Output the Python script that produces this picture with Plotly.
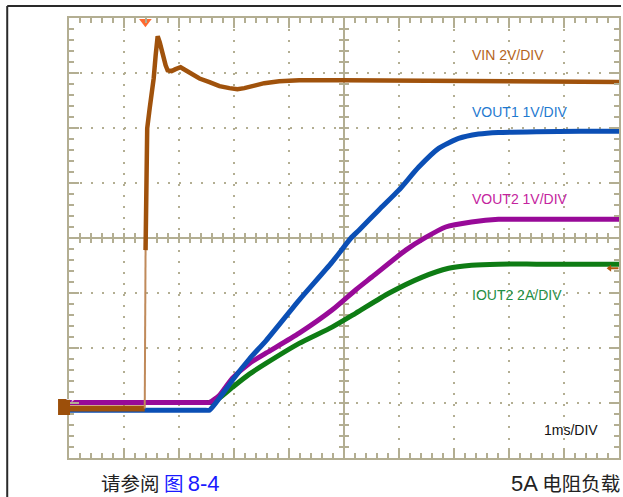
import plotly.graph_objects as go

# ---------------- data ----------------
# time in ms (1 ms / DIV, 10 divisions)
t_vin = [0, 1.377, 1.386, 1.392, 1.398, 1.404, 1.422, 1.467, 1.504, 1.540, 1.576, 1.612,
         1.649, 1.703, 1.757, 1.793, 1.866, 1.938, 2.029, 2.12, 2.228, 2.373, 2.554,
         2.736, 2.917, 3.062, 3.188, 3.37, 3.551, 3.822, 4.185, 5.0, 10.0]
vin = [0, 0, 2.85, 5.76, 7.57, 9.28, 10.19, 10.92, 11.36, 12.01, 12.85, 13.54,
       13.32, 12.85, 12.48, 12.3, 12.27, 12.34, 12.41, 12.3, 12.16, 12.0, 11.87,
       11.72, 11.65, 11.61, 11.65, 11.76, 11.83, 11.9, 11.94, 11.94, 11.87]

t_vout1 = [0, 1.0, 2.0, 2.45, 2.554, 2.736, 2.971, 3.279, 3.587, 4.185, 4.783, 5.127,
           5.272, 5.634, 5.996, 6.359, 6.721, 7.083, 7.446, 7.808, 8.5, 9.3, 10.0]
vout1 = [0, 0, 0, 0, 0, 0.22, 0.545, 0.93, 1.27, 2.0, 2.69, 3.13,
         3.27, 3.64, 4.0, 4.42, 4.76, 4.94, 5.02, 5.05, 5.06, 5.07, 5.07]

t_vout2 = [0, 1.0, 2.0, 2.45, 2.554, 2.736, 2.971, 3.279, 3.587, 4.185, 4.783, 5.217,
           5.507, 6.123, 6.486, 6.848, 7.319, 7.808, 8.5, 9.3, 10.0]
vout2 = [0, 0, 0, 0, 0, 0.13, 0.44, 0.71, 0.90, 1.26, 1.68, 2.05,
         2.28, 2.77, 3.00, 3.19, 3.28, 3.33, 3.33, 3.33, 3.33]

t_iout2 = [0, 1.0, 2.0, 2.48, 2.59, 2.681, 2.971, 3.279, 3.587, 4.185, 4.783, 5.217,
           5.815, 6.413, 6.902, 7.319, 7.808, 8.5, 9.3, 10.0]
iout2 = [0, 0, 0, 0, 0, 0.08, 0.55, 1.03, 1.43, 2.15, 2.74, 3.25,
         3.97, 4.55, 4.88, 4.99, 5.03, 5.03, 5.03, 5.03]

# channel settings: units per division, ground position (divisions from centre)
ch_scale = {"VIN": 2.0, "VOUT1": 1.0, "VOUT2": 1.0, "IOUT2": 2.0}
ch_offset = {"VIN": -3.1, "VOUT1": -3.13, "VOUT2": -2.99, "IOUT2": -2.99}
ch_color = {"VIN": "#a0520c", "VOUT1": "#0b4fb5", "VOUT2": "#980a98", "IOUT2": "#0e7c14"}
label_color = {"VIN": "#b5651d", "VOUT1": "#1f7ad0", "VOUT2": "#c4249e", "IOUT2": "#1f8f45"}
labels = ["VIN 2V/DIV", "VOUT1 1V/DIV", "VOUT2 1V/DIV", "IOUT2 2A/DIV"]
label_div = [3.324, 2.287, 0.705, -1.04]
timebase_label = "1ms/DIV"


def to_div(name, vals):
    return [ch_offset[name] + v / ch_scale[name] for v in vals]


GRID = "#b3ae92"
LAT = 'font-size:22px;font-family:Liberation Sans'
fig = go.Figure()

# centre cross with minor ticks
hx = 5 / 55.2
hy = 5 / 55.0
cx, cy = [], []
cx += [5, 5, None]; cy += [-4, 4, None]
cx += [0, 10, None]; cy += [0, 0, None]
for i in range(1, 50):
    x = i * 0.2
    cx += [x, x, None]; cy += [-hy, hy, None]
for i in range(1, 40):
    y = -4 + i * 0.2
    cx += [5 - hx, 5 + hx, None]; cy += [y, y, None]
fig.add_trace(go.Scatter(x=cx, y=cy, mode="lines", line=dict(color=GRID, width=2),
                         hoverinfo="skip", showlegend=False))

# traces
fig.add_trace(go.Scatter(x=t_iout2, y=to_div("IOUT2", iout2), mode="lines",
                         line=dict(color=ch_color["IOUT2"], width=5, shape="spline", smoothing=0.6),
                         showlegend=False))
fig.add_trace(go.Scatter(x=t_vout2, y=to_div("VOUT2", vout2), mode="lines",
                         line=dict(color=ch_color["VOUT2"], width=5, shape="spline", smoothing=0.6),
                         showlegend=False))
fig.add_trace(go.Scatter(x=t_vout1, y=to_div("VOUT1", vout1), mode="lines",
                         line=dict(color=ch_color["VOUT1"], width=5, shape="spline", smoothing=0.6),
                         showlegend=False))
vdiv = to_div("VIN", vin)
fig.add_trace(go.Scatter(x=t_vin[:2], y=vdiv[:2], mode="lines",
                         line=dict(color=ch_color["VIN"], width=6), showlegend=False))
fig.add_trace(go.Scatter(x=t_vin[1:4], y=vdiv[1:4], mode="lines",
                         line=dict(color="#c08a5a", width=2), showlegend=False))
fig.add_trace(go.Scatter(x=t_vin[3:], y=vdiv[3:], mode="lines",
                         line=dict(color=ch_color["VIN"], width=4.5), showlegend=False))

# trigger position marker (top) and trigger level marker (right)
fig.add_trace(go.Scatter(x=[1.389], y=[3.93], mode="markers", cliponaxis=False,
                         marker=dict(symbol="triangle-down", size=11, color="#ff6a30"),
                         showlegend=False))
fig.add_trace(go.Scatter(x=[9.84, 9.99], y=[-0.55, -0.55], mode="lines", cliponaxis=False,
                         line=dict(color="#b0560e", width=2), showlegend=False))
fig.add_trace(go.Scatter(x=[9.83], y=[-0.55], mode="markers", cliponaxis=False,
                         marker=dict(symbol="triangle-left", size=6, color="#b0560e"),
                         showlegend=False))

# channel labels
for name, txt, yd in zip(["VIN", "VOUT1", "VOUT2", "IOUT2"], labels, label_div):
    fig.add_annotation(x=7.283, y=yd, xref="x", yref="y", text=txt, showarrow=False,
                       xanchor="left", yanchor="middle",
                       font=dict(family="Liberation Sans, Arial", size=14, color=label_color[name]))
fig.add_annotation(x=8.605, y=-3.495, xref="x", yref="y", text=timebase_label, showarrow=False,
                   xanchor="left", yanchor="middle",
                   font=dict(family="Liberation Sans, Arial", size=14, color="#111111"))

# captions
cap_y = (458 - 482.5) / 440
fig.add_annotation(x=(100 - 69) / 552, y=cap_y, xref="paper", yref="paper",
                   text='请参阅 <span style="color:#1a1aff">图 <span style="' + LAT + '">8-4</span></span>',
                   showarrow=False, xanchor="left", yanchor="middle", borderpad=0,
                   font=dict(family="Noto Sans CJK SC", size=19.5, color="#222222"))
fig.add_annotation(x=(623 - 69) / 552, y=cap_y, xref="paper", yref="paper",
                   text='<span style="' + LAT + '">5A</span> 电阻负载',
                   showarrow=False, xanchor="right", yanchor="middle", borderpad=0,
                   font=dict(family="Noto Sans CJK SC", size=19.5, color="#222222"))

# ground marker box (left)
fig.add_shape(type="rect", xref="paper", yref="paper", layer="above",
              x0=(58 - 69) / 552, x1=(70 - 69) / 552, y0=(458 - 415) / 440, y1=(458 - 399) / 440,
              fillcolor="#9c4f0a", line=dict(width=0))
fig.add_annotation(x=(64 - 69) / 552, y=(458 - 407) / 440, xref="paper", yref="paper",
                   text="→", showarrow=False, font=dict(family="DejaVu Sans", size=10, color="white"))

# outer frame lines of the figure
fy_top = (458 - 6) / 440
fx_left = (7 - 69) / 552
fig.add_shape(type="line", xref="paper", yref="paper", x0=fx_left, x1=(623 - 69) / 552,
              y0=fy_top, y1=fy_top, line=dict(color="#2a2a2a", width=2))
fig.add_shape(type="line", xref="paper", yref="paper", x0=fx_left, x1=fx_left,
              y0=(458 - 497) / 440, y1=fy_top, line=dict(color="#2a2a2a", width=2))

axis_common = dict(showticklabels=False, zeroline=False, showline=True, linecolor=GRID,
                   linewidth=2, mirror="allticks", ticks="inside", ticklen=10,
                   tickcolor=GRID, tickwidth=2, showgrid=True, gridcolor=GRID,
                   gridwidth=2, griddash="2px,9.04px", fixedrange=True)
fig.update_xaxes(range=[0, 10], dtick=1, tick0=0,
                 minor=dict(dtick=0.2, ticks="inside", ticklen=5, tickcolor=GRID,
                            tickwidth=2, showgrid=False),
                 **axis_common)
fig.update_yaxes(range=[-4, 4], dtick=1, tick0=0,
                 minor=dict(dtick=0.2, ticks="inside", ticklen=5, tickcolor=GRID,
                            tickwidth=2, showgrid=False),
                 **axis_common)

fig.update_layout(width=623, height=497, margin=dict(l=69, r=2, t=18, b=39),
                  paper_bgcolor="white", plot_bgcolor="white", showlegend=False)

fig.write_html("out.html")
